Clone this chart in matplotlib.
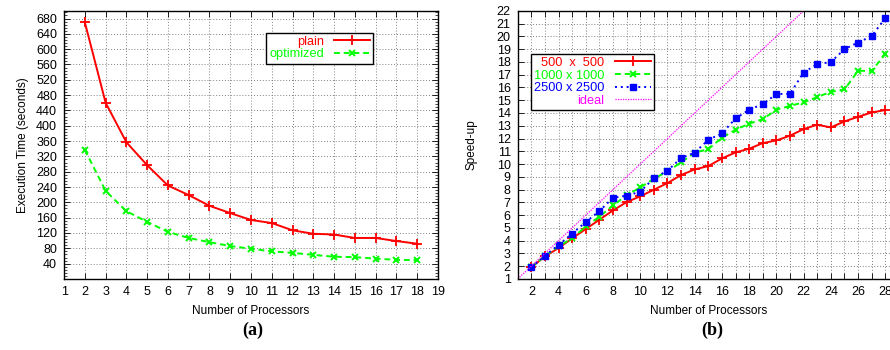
"""
Two-panel figure: execution time (a) and speed-up (b) vs number of processors.
"""

import matplotlib
matplotlib.use("Agg")
import matplotlib.pyplot as plt
from matplotlib.ticker import MultipleLocator, FixedLocator, FuncFormatter

plt.rcParams["font.family"] = ["Liberation Sans", "DejaVu Sans"]
plt.rcParams["font.size"] = 8

# ── Data: panel (a) ───────────────────────────────────────────────────────────
procs_a   = list(range(2, 19))
plain     = [670, 460, 357, 297, 244, 219, 191, 172, 154, 146, 127, 118, 116,
             107, 107, 99, 92]
optimized = [337, 230, 177, 149, 123, 107, 96, 86, 79, 72, 68, 63, 58, 57,
             53, 50, 49]

# ── Data: panel (b) ───────────────────────────────────────────────────────────
procs_b = list(range(2, 29))
s500  = [1.91, 2.77, 3.42, 4.18, 4.91, 5.64, 6.37, 7.02, 7.47, 7.99, 8.51,
         9.14, 9.58, 9.84, 10.44, 10.91, 11.2, 11.64, 11.85, 12.22, 12.74,
         13.08, 12.87, 13.34, 13.7, 14.04, 14.23]
s1000 = [1.91, 2.8, 3.55, 4.18, 5.12, 5.88, 6.76, 7.55, 8.17, 8.85, 9.42,
         10.13, 10.89, 11.17, 12.06, 12.69, 13.16, 13.52, 14.25, 14.56, 14.83,
         15.24, 15.66, 15.84, 17.3, 17.3, 18.61]
s2500 = [1.91, 2.82, 3.66, 4.55, 5.46, 6.32, 7.36, 7.52, 7.83, 8.9, 9.48,
         10.47, 10.89, 11.9, 12.4, 13.57, 14.25, 14.7, 15.48, 15.5, 17.17,
         17.83, 17.98, 19.0, 19.52, 20.02, 21.43]
ideal_x = [1, 29]
ideal_y = [1, 29]

RED, GREEN, BLUE, MAGENTA = "#ff0000", "#00ff00", "#0000ff", "#ff00ff"
GRID = dict(color="#7f7f7f", linestyle=(0, (1, 2)), linewidth=0.7)
LEG = dict(markerfirst=False, labelcolor="linecolor", frameon=True,
           fancybox=False, edgecolor="black", framealpha=1, fontsize=9.2,
           handlelength=2.8, borderpad=0.25, labelspacing=0.05,
           handletextpad=0.8, borderaxespad=0, loc="upper left")

fig = plt.figure(figsize=(8.9, 3.5), dpi=100)


def style_axes(ax):
    ax.grid(True, **GRID)
    ax.tick_params(direction="in", top=True, right=True, length=4,
                   width=0.6, labelsize=9, pad=5)
    ax.tick_params(which="minor", direction="in", left=True, right=True,
                   length=2, width=0.5)
    for sp in ax.spines.values():
        sp.set_linewidth(1.0)


# ── Panel (a) ─────────────────────────────────────────────────────────────────
ax1 = fig.add_axes([0.072, 0.203, 0.420, 0.766])
ax1.plot(procs_a, plain, color=RED, lw=1.4, marker="+", ms=7, mew=1.3,
         label="plain")
ax1.plot(procs_a, optimized, color=GREEN, lw=1.4, ls=(0, (3, 2)),
         marker="x", ms=5, mew=1.4, label="optimized")
ax1.set_xlim(1, 19)
ax1.set_ylim(0, 700)
ax1.xaxis.set_major_locator(MultipleLocator(1))
ax1.yaxis.set_major_locator(FixedLocator(range(40, 700, 40)))
ax1.yaxis.set_minor_locator(MultipleLocator(8))
style_axes(ax1)
ax1.set_xlabel("Number of Processors", fontsize=8.5, labelpad=5)
ax1.set_ylabel("Execution Time (seconds)", fontsize=8.5, labelpad=5)
ax1.legend(bbox_to_anchor=(0.541, 0.919), **LEG).get_frame().set_linewidth(1.0)

# ── Panel (b) ─────────────────────────────────────────────────────────────────
ax2 = fig.add_axes([0.5817, 0.203, 0.4283, 0.766])
ax2.plot(procs_b, s500, color=RED, lw=1.4, marker="+", ms=7, mew=1.3,
         label="500  x  500")
ax2.plot(procs_b, s1000, color=GREEN, lw=1.4, ls=(0, (3, 2)), marker="x",
         ms=5, mew=1.4, label="1000 x 1000")
ax2.plot(procs_b, s2500, color=BLUE, lw=1.4, ls=(0, (1, 2)), marker="s",
         ms=5, label="2500 x 2500")
ax2.plot(ideal_x, ideal_y, color=MAGENTA, lw=0.9, ls=(0, (1, 1)),
         label="ideal")
ax2.set_xlim(1, 29)
ax2.set_ylim(1, 22)
ax2.xaxis.set_major_locator(MultipleLocator(1))
ax2.xaxis.set_major_formatter(
    FuncFormatter(lambda v, p: f"{int(v)}" if int(v) % 2 == 0 else ""))
ax2.yaxis.set_major_locator(MultipleLocator(1))
style_axes(ax2)
ax2.set_xlabel("Number of Processors", fontsize=8.5, labelpad=5)
ax2.set_ylabel("Speed-up", fontsize=8.5, labelpad=14)
ax2.legend(bbox_to_anchor=(0.035, 0.84), **LEG).get_frame().set_linewidth(1.0)

# ── Panel captions ────────────────────────────────────────────────────────────
fig.text(0.284, 0.057, "(a)", family=["Liberation Serif", "DejaVu Serif"],
         fontweight="bold", fontsize=13, ha="center", va="center")
fig.text(0.800, 0.057, "(b)", family=["Liberation Serif", "DejaVu Serif"],
         fontweight="bold", fontsize=13, ha="center", va="center")

fig.savefig("out.png", dpi=100)
